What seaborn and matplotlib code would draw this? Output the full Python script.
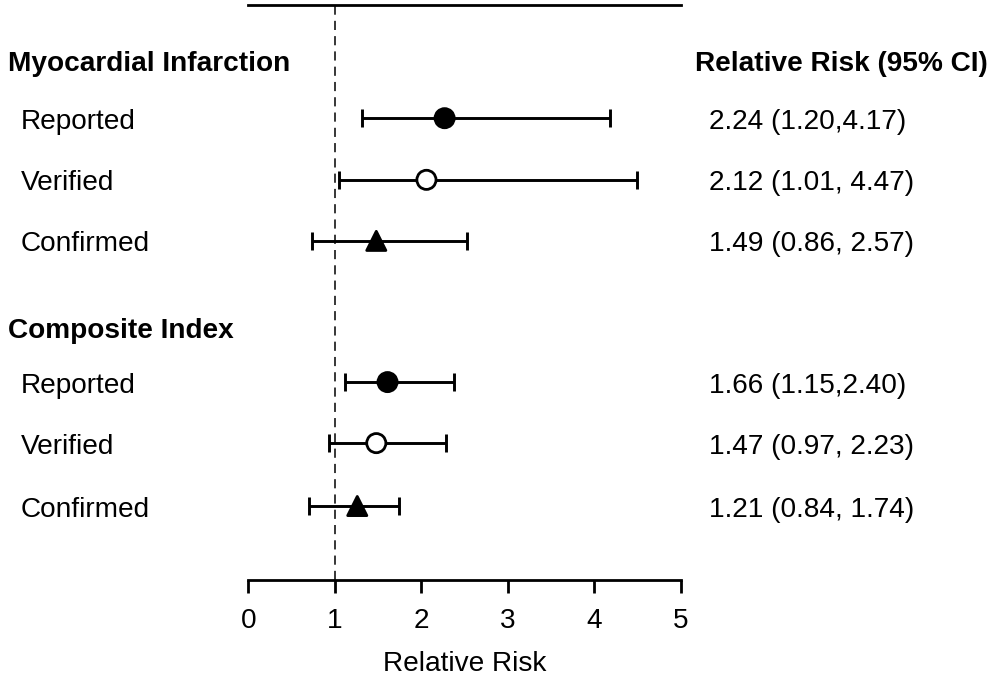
import matplotlib
matplotlib.use("Agg")
import matplotlib.pyplot as plt
import matplotlib.transforms as mtransforms
import pandas as pd
import seaborn as sns

# values
groups = ["Myocardial Infarction", "Composite Index"]
methods = ["Reported", "Verified", "Confirmed",
           "Reported", "Verified", "Confirmed"]
rr = [2.27, 2.06, 1.48, 1.61, 1.48, 1.26]
ci_low = [1.32, 1.045, 0.74, 1.12, 0.93, 0.705]
ci_high = [4.18, 4.49, 2.53, 2.38, 2.29, 1.74]
rr_labels = ["2.24 (1.20,4.17)", "2.12 (1.01, 4.47)", "1.49 (0.86, 2.57)",
             "1.66 (1.15,2.40)", "1.47 (0.97, 2.23)", "1.21 (0.84, 1.74)"]
x_ticks = [0, 1, 2, 3, 4, 5]

# layout: row positions (top to bottom)
row_y = [1.0, 2.0, 2.99, 5.28, 6.27, 7.29]
header_y = [0.06, 4.40]

df = pd.DataFrame({"method": methods, "rr": rr, "lo": ci_low,
                   "hi": ci_high, "y": row_y})

sns.set_style("white")
plt.rcParams["font.family"] = ["Liberation Sans", "DejaVu Sans"]
plt.rcParams["text.color"] = "black"
plt.rcParams["axes.labelcolor"] = "black"
plt.rcParams["xtick.color"] = "black"

FS = 20.2

fig = plt.figure(figsize=(10, 6.86), dpi=100)
ax = fig.add_axes([0.2483, 0.1545, 0.4324, 0.8386])

# reference line at RR = 1
ax.axvline(1, color="black", lw=1.1, ls=(0, (6, 4)), zorder=1)

# confidence intervals
ax.errorbar(df["rr"], df["y"],
            xerr=[df["rr"] - df["lo"], df["hi"] - df["rr"]],
            fmt="none", ecolor="black", elinewidth=2.1,
            capsize=6.5, capthick=2.1, zorder=2)

sns.scatterplot(data=df, x="rr", y="y", hue="method", style="method",
                palette={"Reported": "black", "Verified": "white",
                         "Confirmed": "black"},
                markers={"Reported": "o", "Verified": "o", "Confirmed": "^"},
                s=190, edgecolor="black", linewidth=2, legend=False,
                zorder=3, ax=ax)

ax.set_xlim(0, 5)
ax.set_ylim(8.49, -0.84)
ax.set_xticks(x_ticks)
ax.set_yticks([])
ax.set_ylabel("")
ax.set_xlabel("Relative Risk", fontsize=FS, labelpad=12)
ax.tick_params(axis="x", bottom=True, direction="out", length=9, width=2,
               labelsize=FS, pad=11.5, color="black", labelcolor="black")

for side in ["left", "right"]:
    ax.spines[side].set_visible(False)
for side in ["top", "bottom"]:
    ax.spines[side].set_linewidth(2)
    ax.spines[side].set_color("black")

# text sits on a baseline ~11 px below each row's centre
trans = mtransforms.blended_transform_factory(fig.transFigure, ax.transData)
trans = mtransforms.offset_copy(trans, fig=fig, y=-10.5, units="dots")

for name, y in zip(groups, header_y):
    ax.text(0.008, y, name, transform=trans, fontsize=FS,
            fontweight="bold", va="baseline", ha="left")
ax.text(0.695, header_y[0], "Relative Risk (95% CI)", transform=trans,
        fontsize=FS, fontweight="bold", va="baseline", ha="left")

for m, lab, y in zip(methods, rr_labels, row_y):
    ax.text(0.021, y, m, transform=trans, fontsize=FS,
            va="baseline", ha="left")
    ax.text(0.709, y, lab, transform=trans, fontsize=FS,
            va="baseline", ha="left")

fig.savefig("out.png", dpi=100)
